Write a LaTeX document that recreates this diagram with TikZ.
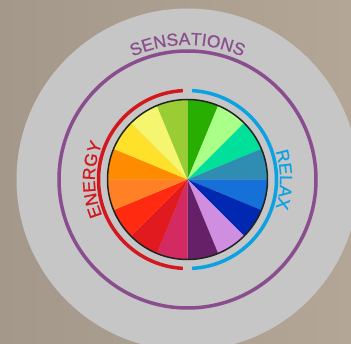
\documentclass[tikz,border=0pt]{standalone}
\usepackage{fontspec}
\setsansfont{Liberation Sans}[FakeBold=0.8]
\usetikzlibrary{decorations.text}
\definecolor{bgLeft}{HTML}{A4988B}
\definecolor{bgRight}{HTML}{B3A696}
\definecolor{disc}{HTML}{C6C6C6}
\definecolor{cPurple}{HTML}{8A4E8E}
\definecolor{cRed}{HTML}{D2181E}
\definecolor{cBlue}{HTML}{0AA2E2}
\definecolor{rim}{HTML}{222222}
% wheel colours, clockwise from the top
\definecolor{w1}{HTML}{27AE00}
\definecolor{w2}{HTML}{AAFF88}
\definecolor{w3}{HTML}{00E09B}
\definecolor{w4}{HTML}{2E8DB1}
\definecolor{w5}{HTML}{1570D8}
\definecolor{w6}{HTML}{0028B0}
\definecolor{w7}{HTML}{D08EE0}
\definecolor{w8}{HTML}{662068}
\definecolor{w9}{HTML}{D42A62}
\definecolor{w10}{HTML}{E01A1E}
\definecolor{w11}{HTML}{FF2A10}
\definecolor{w12}{HTML}{FF8025}
\definecolor{w13}{HTML}{FF8C00}
\definecolor{w14}{HTML}{FFE02A}
\definecolor{w15}{HTML}{F5F570}
\definecolor{w16}{HTML}{9ACC33}
\newcommand{\lbl}{\sffamily\fontsize{17.5}{17.5}\selectfont}
\tikzset{
  ring/.style={line width=3.5pt},
}

\begin{document}
\begin{tikzpicture}[x=1pt, y=1pt]

% ── frame and backdrop ──────────────────────────────────────────────────────
\useasboundingbox (0,0) rectangle (351,343);
\shade[left color=bgLeft, right color=bgRight] (0,0) rectangle (351,343);
\clip (0,0) rectangle (351,343);

\begin{scope}[shift={(187.5,163.5)}]
\fill[disc] (0,0) circle (171);

% ── outer ring + label ──────────────────────────────────────────────────────
\draw[ring, cPurple] (0,0) circle (128.5);
\path[decorate, decoration={text along path, text align=center,
  text={|\lbl\color{cPurple}|SENSATIONS}}] (150:134.5) arc (150:30:134.5);

% ── colour wheel ────────────────────────────────────────────────────────────
\foreach \col [count=\i] in {w1,w2,w3,w4,w5,w6,w7,w8,w9,w10,w11,w12,w13,w14,w15,w16}
  \fill[\col] (0,0) -- ({90-(\i-1)*22.5}:80) arc ({90-(\i-1)*22.5}:{90-\i*22.5}:80) -- cycle;
\draw[line width=1.5pt, rim] (0,0) circle (80);

% ── half arcs ───────────────────────────────────────────────────────────────
\draw[ring, cRed] (93:89) arc (93:267:89);
\draw[ring, cBlue] (87:89) arc (87:-87:89);
\path[decorate, decoration={text along path, text align=center,
  text={|\lbl\color{cRed}|ENERGY}}] (230:92.5) arc (230:130:92.5);
\path[decorate, decoration={text along path, text align=center,
  text={|\lbl\color{cBlue}|RELAX}}] (50:92.5) arc (50:-50:92.5);
\end{scope}

\end{tikzpicture}
\end{document}
